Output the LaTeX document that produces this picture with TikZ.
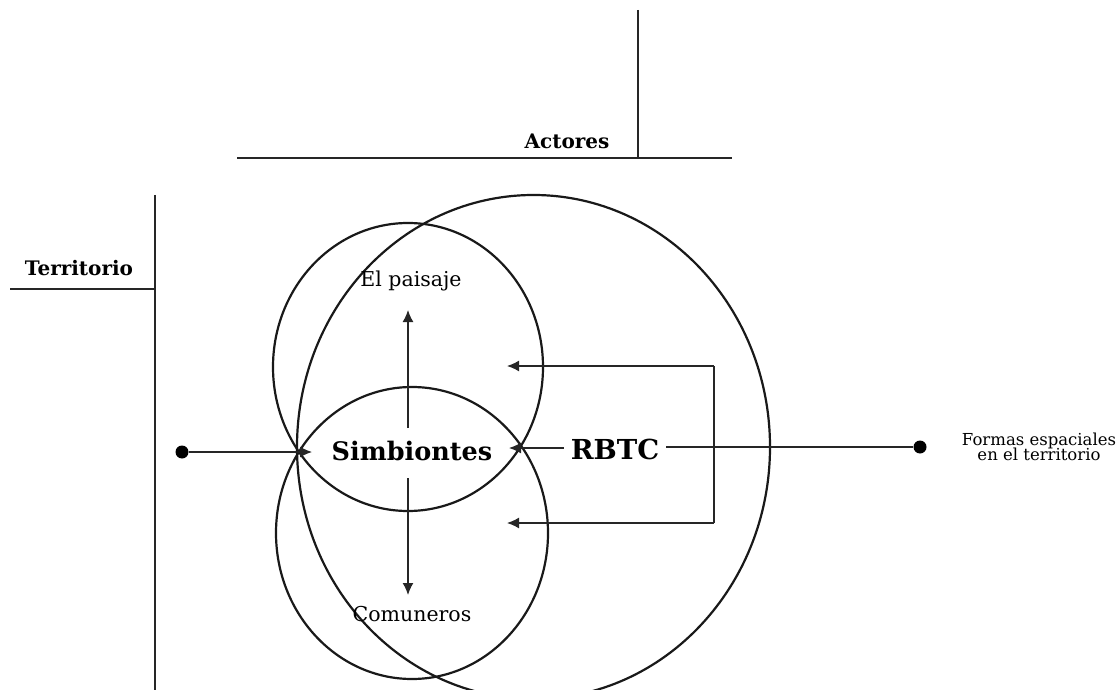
\documentclass[tikz,border=0pt]{standalone}
\usepackage{fontspec}
\setmainfont{DejaVu Serif}
\usetikzlibrary{arrows.meta,shapes.geometric}
\tikzset{
  ring/.style={draw=black!90, line width=2.2pt, ellipse, inner sep=0pt},
  rule/.style={draw=black!85, line width=1.5pt},
  conn/.style={draw=black!85, line width=1.4pt},
  arr/.style={conn, -{Latex[length=12pt,width=11pt]}},
  dot/.style={circle, fill=black, inner sep=0pt, minimum size=13pt},
  head/.style={font=\bfseries\fontsize{20}{24}\selectfont},
  lab/.style={font=\fontsize{20.5}{24}\selectfont},
  big/.style={font=\bfseries\fontsize{25.5}{30}\selectfont},
  bigb/.style={font=\bfseries\fontsize{27.5}{32}\selectfont},
  small/.style={font=\fontsize{16.5}{19}\selectfont, align=center}
}
\begin{document}
\begin{tikzpicture}[x=1pt,y=-1pt]
\useasboundingbox (0,0) rectangle (1120,690);
% frame lines
\coordinate (avT) at (638,10);
\coordinate (avB) at (638,158);
\coordinate (ahL) at (237,158);
\coordinate (ahR) at (732,158);
\draw[rule] (avT) -- (avB);
\draw[rule] (ahL) -- (ahR);
\node[head] (actores) at (567,141) {Actores};
\coordinate (tvT) at (155,195);
\coordinate (tvB) at (155,692);
\coordinate (thL) at (10,289);
\coordinate (thR) at (155,289);
\draw[rule] (tvT) -- (tvB);
\draw[rule] (thL) -- (thR);
\node[head] (territorio) at (79,268) {Territorio};
% rings
\node[ring, minimum width=270pt, minimum height=288pt] (paisajeR) at (408,367) {};
\node[ring, minimum width=272pt, minimum height=292pt] (comunerosR) at (412,533) {};
\node[ring, minimum width=473pt, minimum height=504pt] (rbtcR) at (533.5,447) {};
% labels
\node[lab] (paisaje) at (411,281) {El paisaje};
\node[lab] (comuneros) at (412,614) {Comuneros};
\node[big, inner sep=0pt] (simb) at (412,451) {Simbiontes};
\node[bigb, inner xsep=7pt, inner ysep=0pt] (rbtc) at (615,449) {RBTC};
\node[small] (formas) at (1039,447) {Formas espaciales\\[-4pt]en el territorio};
% vertical arrows
\coordinate (upS) at (408,428);
\coordinate (upE) at (408,310);
\coordinate (dnS) at (408,478);
\coordinate (dnE) at (408,595);
\draw[arr] (upS) -- (upE);
\draw[arr] (dnS) -- (dnE);
% left input
\node[dot] (ldot) at (182,452) {};
\coordinate (lcorner) at (312,452);
\draw[arr] (ldot) -- (lcorner);
% RBTC
\coordinate (rcorner) at (509,448);
\draw[arr] (rbtc.west |- 0,448) -- (rcorner);
\node[dot] (rdot) at (920,447) {};
\draw[conn] (rbtc.east |- 0,447) -- (rdot);
% bracket
\coordinate (bT) at (714,366);
\coordinate (bB) at (714,523);
\coordinate (tT) at (507,366);
\coordinate (tB) at (507,523);
\draw[conn] (bT) -- (bB);
\draw[arr] (bT) -- (tT);
\draw[arr] (bB) -- (tB);
\end{tikzpicture}
\end{document}
